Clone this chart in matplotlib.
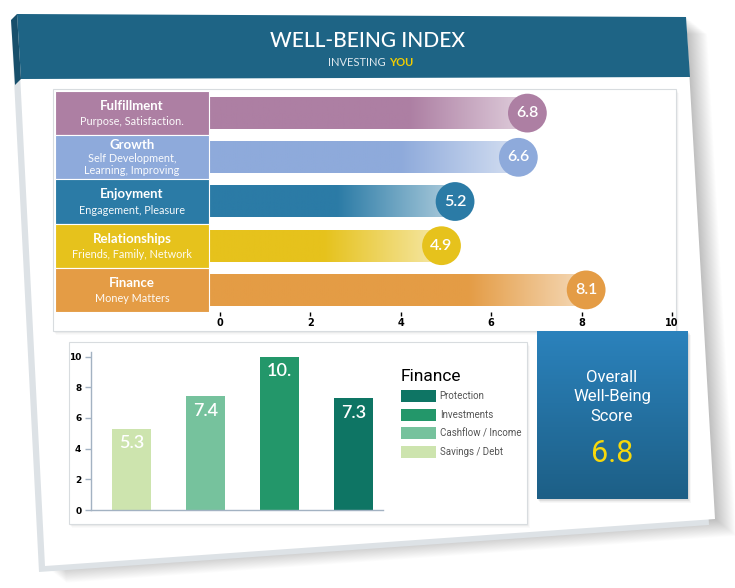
import matplotlib.pyplot as plt
import numpy as np
from matplotlib import font_manager
from matplotlib.patches import Polygon, Rectangle
from matplotlib.colors import to_rgb

# well-being rows (top chart)
names = ['Fulfillment', 'Growth', 'Enjoyment', 'Relationships', 'Finance']
subs = ['Purpose, Satisfaction.', 'Self Development,\nLearning, Improving',
        'Engagement, Pleasure', 'Friends, Family, Network', 'Money Matters']
scores = [6.8, 6.6, 5.2, 4.9, 8.1]
row_colors = ['#ad7fa3', '#8eaadb', '#2b7ba6', '#e6c21c', '#e49c45']
x_ticks = [0, 2, 4, 6, 8, 10]

# finance breakdown (bottom chart)
fin_labels = ['Savings / Debt', 'Cashflow / Income', 'Investments', 'Protection']
fin_values = [5.3, 7.4, 10.0, 7.3]
fin_text = ['5.3', '7.4', '10.', '7.3']
fin_colors = ['#cde4ae', '#76c29d', '#23976a', '#0e7564']
y_ticks = [0, 2, 4, 6, 8, 10]

overall = 6.8

avail = {f.name for f in font_manager.fontManager.ttflist}
narrow = 'Liberation Sans Narrow' if 'Liberation Sans Narrow' in avail else 'Roboto'
main_font = 'Lato'

W, H = 735, 588
fig = plt.figure(figsize=(7.35, 5.88), dpi=100)


def box(x0, y0, x1, y1):
    # pixel box (top-left origin) -> figure fraction
    return [x0 / W, 1 - y1 / H, (x1 - x0) / W, (y1 - y0) / H]


bg = fig.add_axes([0, 0, 1, 1])
bg.set_xlim(0, W)
bg.set_ylim(H, 0)
bg.axis('off')

# board with soft shadow
front = np.array([(17, 14), (686, 17), (715, 519), (45, 566)], dtype=float)
for k in range(1, 22):
    bg.add_patch(Polygon(front + [k * 1.0, k * 0.8], closed=True,
                         fc='black', alpha=0.010, lw=0))
bg.add_patch(Polygon(front + [-6, 6], closed=True, fc='#dde2e6', lw=0))
bg.add_patch(Polygon(front, closed=True, fc='white', lw=0))
bg.add_patch(Polygon([(17, 14), (686, 17), (690, 77), (21, 79)], closed=True,
                     fc='#1e6485', lw=0))
bg.add_patch(Polygon([(11, 20), (17, 14), (21, 79), (15, 85)], closed=True,
                     fc='#174f6b', lw=0))

bg.text(368, 41, 'WELL-BEING INDEX', fontsize=15, color='white', ha='center',
        va='center', family=main_font, weight='medium')
bg.text(386, 62, 'INVESTING', fontsize=8, color='#dfe8ee', ha='right',
        va='center', family=main_font)
bg.text(389, 62, 'YOU', fontsize=8, color='#f2cd00', ha='left', va='center',
        family=main_font, weight='bold')

# panels
for (x0, y0, x1, y1) in [(53, 89, 676, 331), (69, 342, 527, 524)]:
    for k in range(1, 6):
        bg.add_patch(Rectangle((x0 + k * 0.6, y0 + k * 0.8), x1 - x0, y1 - y0,
                               fc='black', alpha=0.02, lw=0))
    bg.add_patch(Rectangle((x0, y0), x1 - x0, y1 - y0, fc='white',
                           ec='#d8dcdf', lw=0.8))

# overall score box
for k in range(1, 6):
    bg.add_patch(Rectangle((537 + k * 0.6, 331 + k * 0.8), 151, 168,
                           fc='black', alpha=0.03, lw=0))
top_c = np.array(to_rgb('#2b82bc'))
bot_c = np.array(to_rgb('#1d5f86'))
t = np.linspace(0, 1, 100)[:, None]
grad = (top_c * (1 - t) + bot_c * t)[:, None, :]
bg.imshow(grad, extent=(537, 688, 499, 331), origin='upper', aspect='auto',
          interpolation='bilinear', zorder=3)
bg.set_xlim(0, W)
bg.set_ylim(H, 0)
bg.text(612, 397, 'Overall\nWell-Being\nScore', fontsize=12, color='white',
        ha='center', va='center', multialignment='center', linespacing=1.35,
        family=narrow, zorder=4)
bg.text(612, 453, f'{overall:.1f}', fontsize=22, color='#f6d80c', ha='center',
        va='center', family=narrow, zorder=4)

# top chart
ax = fig.add_axes(box(52.8, 91, 678.8, 312))
ax.patch.set_visible(False)
fade = 2.6
for i, (n, s, v, c) in enumerate(zip(names, subs, scores, row_colors)):
    base = np.array(to_rgb(c))
    xs = np.linspace(-0.3, v, 300)
    tt = np.clip((xs - (v - fade)) / fade, 0, 1)[None, :, None]
    g = base * (1 - 0.62 * tt) + 0.62 * tt
    ax.imshow(g, extent=(-0.3, v, i + 0.36, i - 0.36), aspect='auto',
              interpolation='bilinear', zorder=2)
    ax.add_patch(Rectangle((-3.65, i - 0.5), 3.4, 1.0, fc=c, ec='white',
                           lw=0.8, zorder=3))
    if '\n' in s:
        ny, sy = i - 0.28, i + 0.17
    else:
        ny, sy = i - 0.16, i + 0.2
    ax.text(-1.95, ny, n, ha='center', va='center', color='white',
            fontsize=9.5, weight='bold', family=main_font, zorder=4)
    ax.text(-1.95, sy, s, ha='center', va='center', color='white',
            fontsize=7.8, family=main_font, linespacing=1.1, zorder=4,
            alpha=0.95)
    ax.scatter([v], [i], s=780, color=c, edgecolors='none', zorder=5,
               clip_on=False)
    ax.text(v, i, f'{v:.1f}', ha='center', va='center', color='white',
            fontsize=11.5, family=main_font, weight='semibold', zorder=6)

ax.set_xlim(-3.7, 10.15)
ax.set_ylim(4.5, -0.5)
ax.set_xticks(x_ticks)
ax.set_yticks([])
for sp in ax.spines.values():
    sp.set_visible(False)
ax.tick_params(axis='x', length=3, width=1, pad=1, labelsize=7)
for lab in ax.get_xticklabels():
    lab.set_fontweight('bold')

# bottom chart
ax2 = fig.add_axes(box(91, 352, 383, 510))
ax2.patch.set_visible(False)
bars = ax2.bar(range(len(fin_values)), fin_values, width=0.53,
               color=fin_colors, zorder=2)
for i, (v, txt) in enumerate(zip(fin_values, fin_text)):
    ax2.text(i, v - 0.95, txt, ha='center', va='center', color='white',
             fontsize=13, family=main_font, weight='semibold', zorder=3)
ax2.set_xlim(-0.55, 3.4)
ax2.set_ylim(0, 10.3)
ax2.set_yticks(y_ticks)
ax2.set_xticks([])
for k in ['top', 'right']:
    ax2.spines[k].set_visible(False)
for k in ['left', 'bottom']:
    ax2.spines[k].set_color('#a3b2c2')
    ax2.spines[k].set_linewidth(1)
ax2.tick_params(axis='y', length=4, width=1, color='#a3b2c2', pad=3,
                labelsize=6.5)
for lab in ax2.get_yticklabels():
    lab.set_fontweight('bold')

leg = fig.legend(list(bars)[::-1], fin_labels[::-1], title='Finance',
                 loc='upper left', bbox_to_anchor=(392 / W, 1 - 360 / H),
                 frameon=False, handlelength=3.6, handleheight=1.55,
                 labelspacing=0.65, handletextpad=0.4, alignment='left',
                 prop={'family': narrow, 'size': 7}, labelcolor='#555555',
                 title_fontproperties={'family': narrow, 'size': 12.5})

fig.savefig('out.png', dpi=100)
